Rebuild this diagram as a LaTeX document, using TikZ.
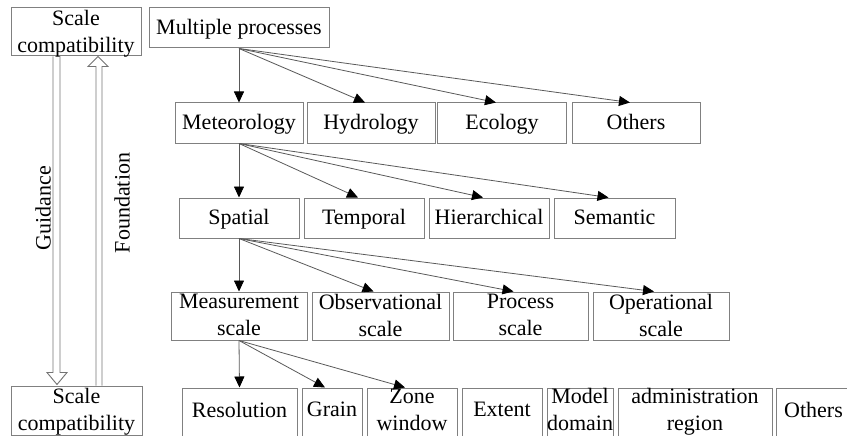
\documentclass[tikz,border=0pt]{standalone}
\usepackage{fontspec}
\setmainfont{Liberation Serif}
\usetikzlibrary{arrows.meta}

\begin{document}
\begin{tikzpicture}[x=1pt,y=-1pt,
  font=\fontsize{22}{27}\selectfont,
  box/.style={draw=black!50,line width=1pt,align=center,inner sep=0pt,text depth=2pt,minimum height=#1},
  box/.default=40pt,
  link/.style={draw=black!65,line width=0.8pt,-{Triangle[length=11pt,width=10pt,color=black]}},
  hollow/.style={draw=black!55,line width=0.9pt}]
\useasboundingbox (0,0) rectangle (847,436);
\clip (0,0) rectangle (847,436);
\node[box=48pt,minimum width=130pt] (sctop) at (76,32) {Scale\\compatibility};
\node[box=49pt,minimum width=131pt] (scbot) at (76.5,410.5) {Scale\\compatibility};
\node[box,minimum width=180pt] (mp) at (239,28) {Multiple processes};
\foreach \n/\x/\w/\t in {met/239/128/Meteorology,hyd/371/128/Hydrology,eco/502/129/Ecology,oth/636/128/Others}
  \node[box,minimum width=\w pt] (\n) at (\x,123) {\t};
\foreach \n/\x/\w/\t in {spa/239/120/Spatial,tem/364/120/Temporal,hie/489/120/Hierarchical,sem/614.5/121/Semantic}
  \node[box,minimum width=\w pt] (\n) at (\x,218) {\t};
\foreach \n/\x/\w/\t in {mea/239/136/{Measurement\\scale},obs/380.5/137/{Observational\\scale},pro/520.5/135/{Process\\scale},ope/661/136/{Operational\\scale}}
  \node[box=48pt,minimum width=\w pt] (\n) at (\x,316) {\t};
\foreach \n/\x/\w/\t in {res/239.5/115/Resolution,gra/332/60/Grain,zon/412/90/{Zone\\window},ext/502/80/Extent,mod/580/66/{Model\\domain},adm/695/154/{administration\\region},oth2/813.5/74/Others}
  \node[box=50pt,text depth=7pt,minimum width=\w pt] (\n) at (\x,413) {\t};
\draw[link] (mp.south) -- (met.north);
\foreach \c in {hyd,eco,oth}
  \draw[link] (mp.south) -- ([xshift=-6pt]\c.north);
\draw[link] (met.south) -- (spa.north);
\foreach \c in {tem,hie,sem}
  \draw[link] (met.south) -- ([xshift=-6pt]\c.north);
\draw[link] (spa.south) -- (mea.north);
\foreach \c in {obs,pro,ope}
  \draw[link] (spa.south) -- ([xshift=-7pt]\c.north);
\draw[link] (mea.south) -- (res.north);
\foreach \c in {gra,zon}
  \draw[link] (mea.south) -- ([xshift=-7pt]\c.north);
\draw[hollow] ([xshift=-23pt]sctop.south) -- ++(0,316) -- ++(-6,0) -- ++(10,12) -- ++(10,-12) -- ++(-7,0) -- ([xshift=-16pt]sctop.south);
\draw[hollow] ([xshift=19.5pt]scbot.north) -- ++(0,-319) -- ++(-8,0) -- ++(10,-10) -- ++(10,10) -- ++(-6,0) -- ([xshift=25.5pt]scbot.north);
\node[rotate=90] (guid) at (43,208) {Guidance};
\node[rotate=90] (foun) at (122,203) {Foundation};
\end{tikzpicture}
\end{document}
